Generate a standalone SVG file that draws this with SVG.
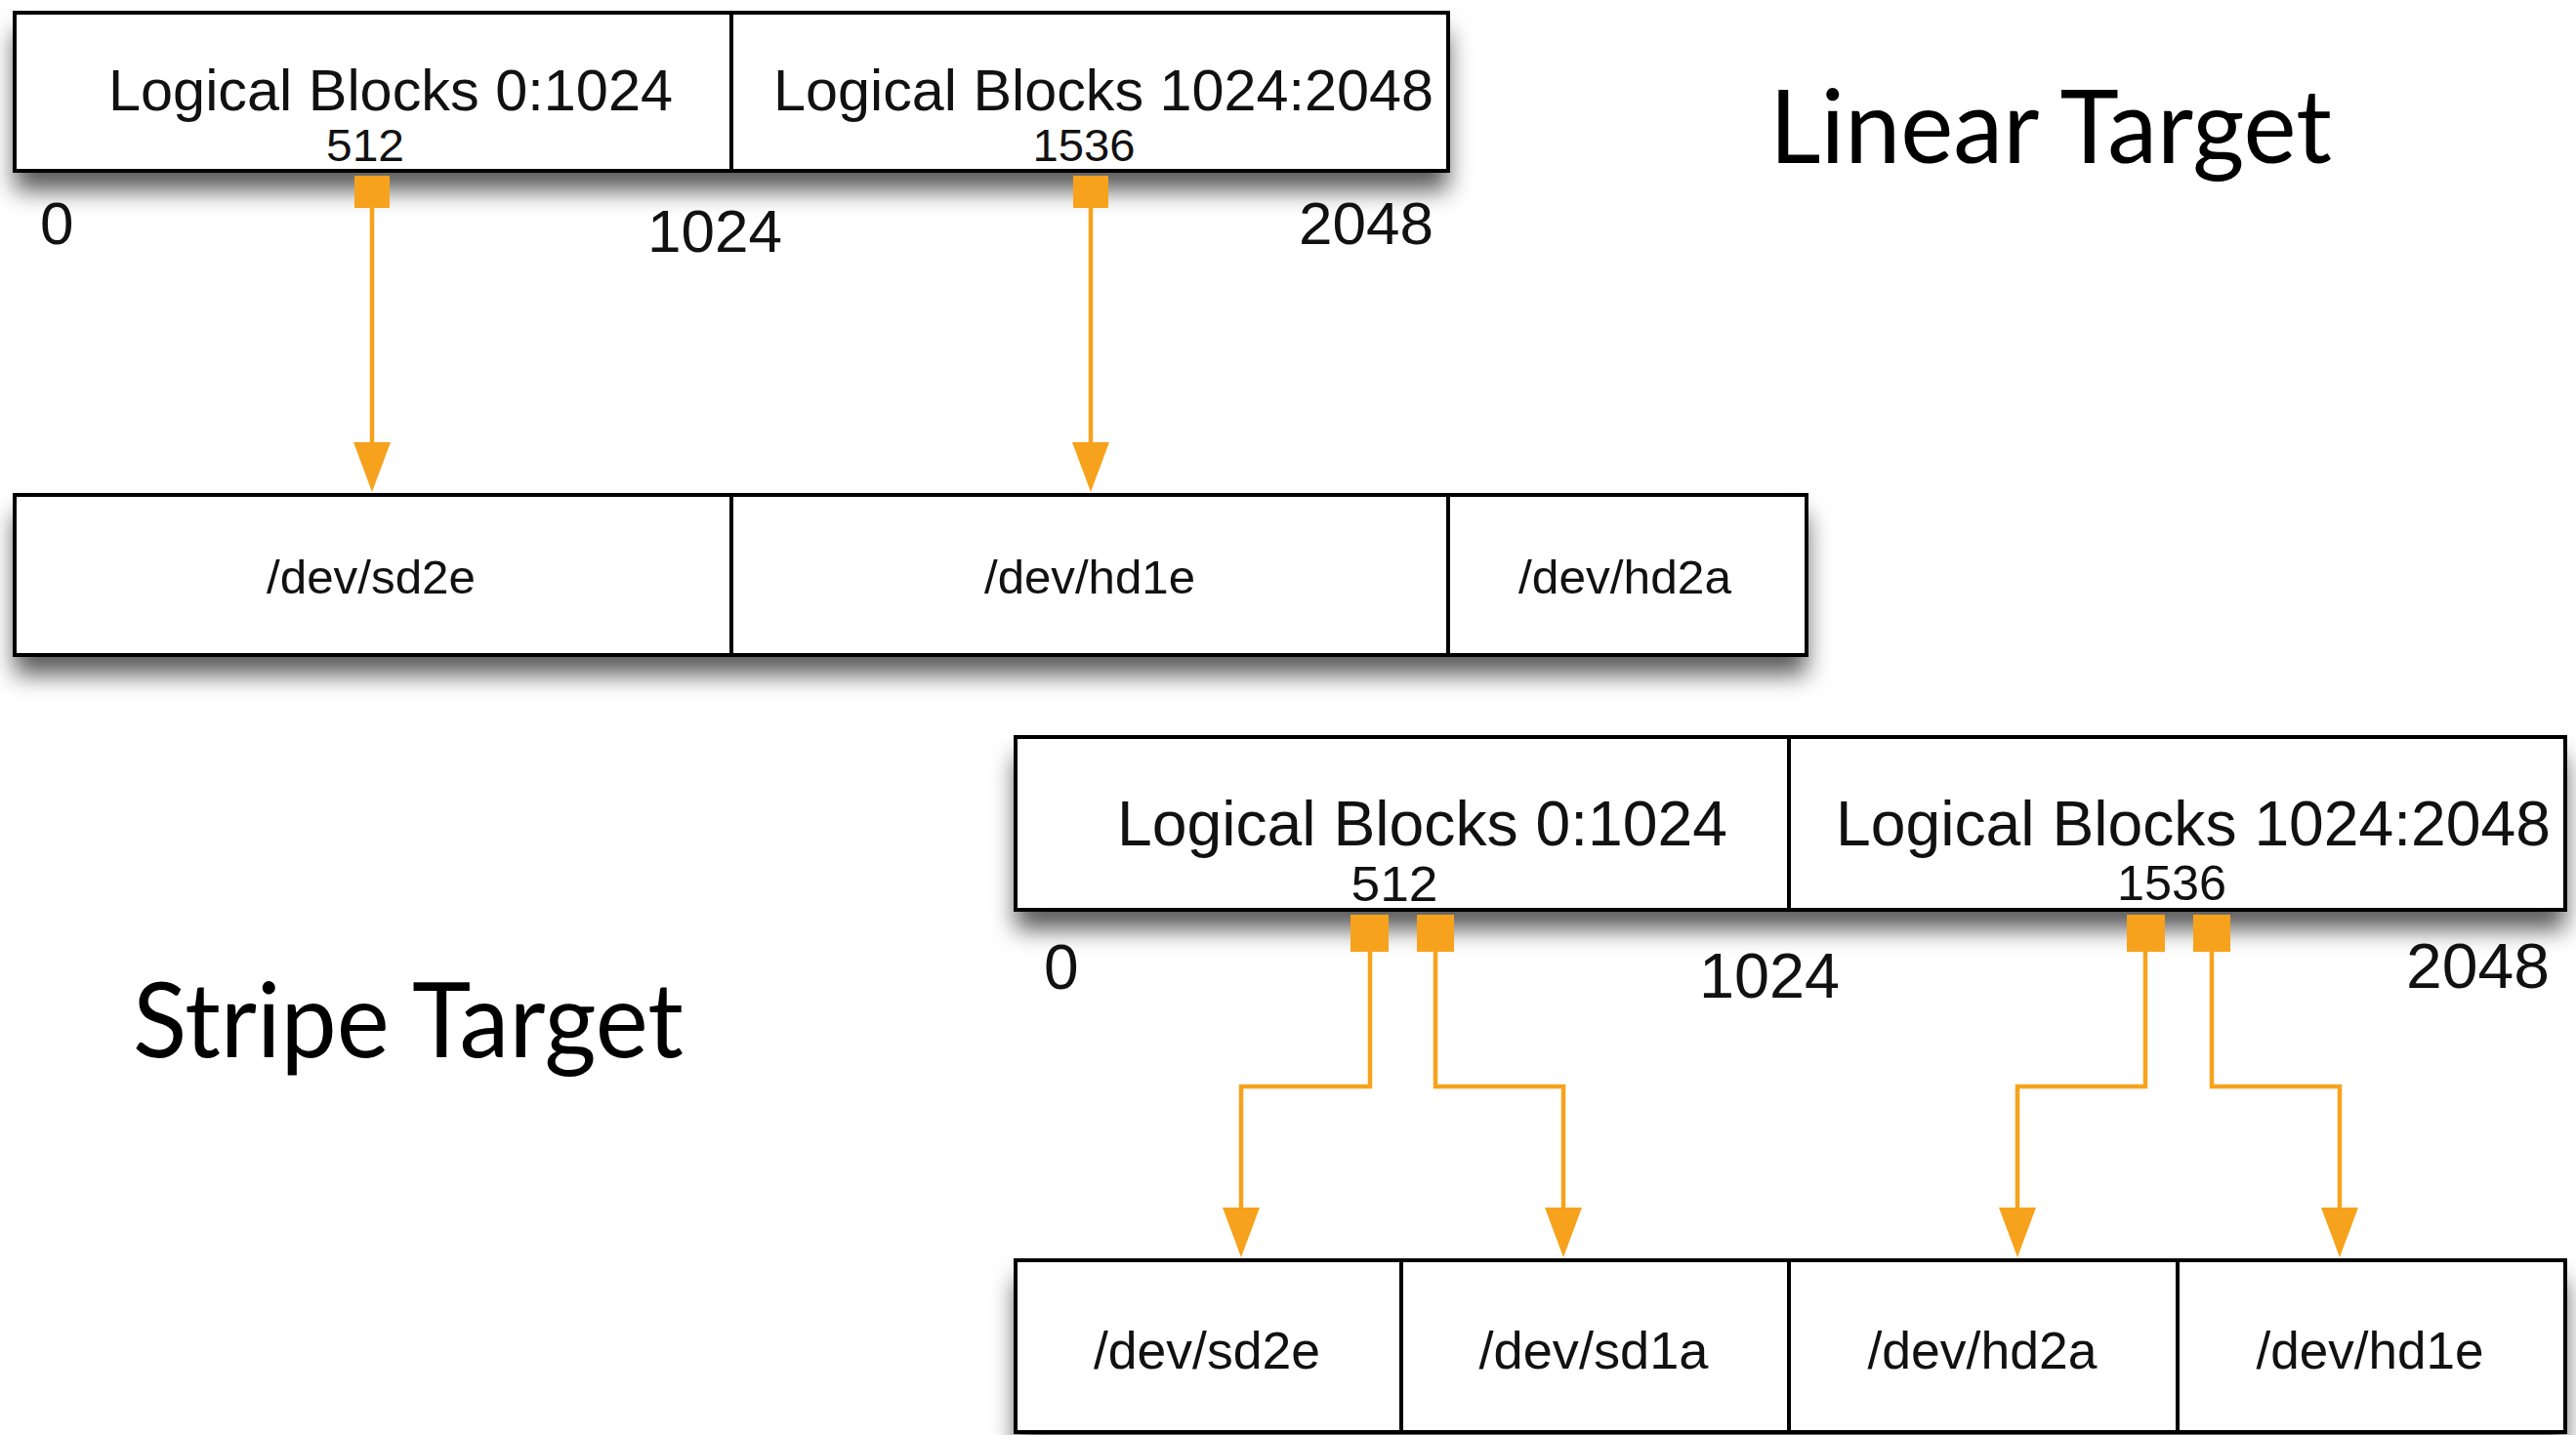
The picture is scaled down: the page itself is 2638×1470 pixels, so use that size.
<svg xmlns="http://www.w3.org/2000/svg" width="2638" height="1470" viewBox="0 0 2638 1470">
<style>
.cell{fill:#fff;stroke:#000;stroke-width:4}
.sh{fill:#fff;stroke:none}
.t{font-family:"Liberation Sans",Arial,sans-serif;fill:#111}
.title{font-family:Lato,"Open Sans",sans-serif;fill:#000}
.sq{fill:#F7A21C}
.wire{fill:none;stroke:#F7A21C;stroke-width:4.5}
</style>
<defs>
<filter id="shadow" x="-5%" y="-20%" width="110%" height="170%">
<feDropShadow dx="0" dy="20" stdDeviation="12" flood-color="#000" flood-opacity="0.65"/>
</filter>
<marker id="arr" markerUnits="userSpaceOnUse" viewBox="0 0 51 38" markerWidth="51" markerHeight="38" refX="2" refY="19" orient="auto">
<path d="M0,0 L51,19 L0,38 z" fill="#F7A21C"/>
</marker>
</defs>
<rect width="2638" height="1470" fill="#fff"/>

<g id="shadows">
<rect class="sh" x="15" y="13" width="1468" height="162" filter="url(#shadow)"/>
<rect class="sh" x="15" y="507" width="1835" height="164" filter="url(#shadow)"/>
<rect class="sh" x="1040" y="755" width="1587" height="177" filter="url(#shadow)"/>
<rect class="sh" x="1040" y="1291" width="1587" height="176" filter="url(#shadow)"/>
</g>

<text class="title" x="1812" y="167" font-size="105" textLength="576" lengthAdjust="spacingAndGlyphs">Linear Target</text>
<text class="title" x="136" y="1083" font-size="107" textLength="564" lengthAdjust="spacingAndGlyphs">Stripe Target</text>

<g id="lin-lb-0-1024">
<rect class="cell" x="15" y="13" width="734" height="162"/>
<text class="t" x="111" y="113" font-size="60" textLength="578" lengthAdjust="spacingAndGlyphs">Logical Blocks 0:1024</text>
<text class="t" x="374" y="165" font-size="47" text-anchor="middle" textLength="80" lengthAdjust="spacingAndGlyphs">512</text>
</g>
<g id="lin-lb-1024-2048">
<rect class="cell" x="749" y="13" width="734" height="162"/>
<text class="t" x="792" y="113" font-size="60" textLength="676" lengthAdjust="spacingAndGlyphs">Logical Blocks 1024:2048</text>
<text class="t" x="1110" y="165" font-size="47" text-anchor="middle" textLength="105" lengthAdjust="spacingAndGlyphs">1536</text>
</g>
<g id="lin-scale">
<text class="t" x="41" y="250" font-size="62">0</text>
<text class="t" x="663" y="258" font-size="62" textLength="138" lengthAdjust="spacingAndGlyphs">1024</text>
<text class="t" x="1330" y="250" font-size="62" textLength="138" lengthAdjust="spacingAndGlyphs">2048</text>
</g>

<g id="lin-sd2e">
<rect class="cell" x="15" y="507" width="734" height="164"/>
<text class="t" x="380" y="608" font-size="49" text-anchor="middle" textLength="214" lengthAdjust="spacingAndGlyphs">/dev/sd2e</text>
</g>
<g id="lin-hd1e">
<rect class="cell" x="749" y="507" width="734" height="164"/>
<text class="t" x="1116" y="608" font-size="49" text-anchor="middle" textLength="216" lengthAdjust="spacingAndGlyphs">/dev/hd1e</text>
</g>
<g id="lin-hd2a">
<rect class="cell" x="1483" y="507" width="367" height="164"/>
<text class="t" x="1664" y="608" font-size="49" text-anchor="middle" textLength="218" lengthAdjust="spacingAndGlyphs">/dev/hd2a</text>
</g>

<g id="str-lb-0-1024">
<rect class="cell" x="1040" y="755" width="792" height="177"/>
<text class="t" x="1144" y="866" font-size="64" textLength="625" lengthAdjust="spacingAndGlyphs">Logical Blocks 0:1024</text>
<text class="t" x="1428" y="923" font-size="50" text-anchor="middle" textLength="89" lengthAdjust="spacingAndGlyphs">512</text>
</g>
<g id="str-lb-1024-2048">
<rect class="cell" x="1832" y="755" width="795" height="177"/>
<text class="t" x="1880" y="866" font-size="64" textLength="732" lengthAdjust="spacingAndGlyphs">Logical Blocks 1024:2048</text>
<text class="t" x="2224" y="922" font-size="50" text-anchor="middle" textLength="112" lengthAdjust="spacingAndGlyphs">1536</text>
</g>
<g id="str-scale">
<text class="t" x="1069" y="1013" font-size="64">0</text>
<text class="t" x="1740" y="1022" font-size="64" textLength="144" lengthAdjust="spacingAndGlyphs">1024</text>
<text class="t" x="2464" y="1012" font-size="64" textLength="147" lengthAdjust="spacingAndGlyphs">2048</text>
</g>

<g id="str-sd2e">
<rect class="cell" x="1040" y="1291" width="395" height="176"/>
<text class="t" x="1236" y="1402" font-size="53" text-anchor="middle" textLength="232" lengthAdjust="spacingAndGlyphs">/dev/sd2e</text>
</g>
<g id="str-sd1a">
<rect class="cell" x="1435" y="1291" width="397" height="176"/>
<text class="t" x="1632" y="1402" font-size="53" text-anchor="middle" textLength="235" lengthAdjust="spacingAndGlyphs">/dev/sd1a</text>
</g>
<g id="str-hd2a">
<rect class="cell" x="1832" y="1291" width="398" height="176"/>
<text class="t" x="2030" y="1402" font-size="53" text-anchor="middle" textLength="235" lengthAdjust="spacingAndGlyphs">/dev/hd2a</text>
</g>
<g id="str-hd1e">
<rect class="cell" x="2230" y="1291" width="397" height="176"/>
<text class="t" x="2427" y="1402" font-size="53" text-anchor="middle" textLength="233" lengthAdjust="spacingAndGlyphs">/dev/hd1e</text>
</g>

<g id="connectors">
<path class="wire" d="M381 212 V455" marker-end="url(#arr)"/>
<path class="wire" d="M1117 212 V455" marker-end="url(#arr)"/>
<path class="wire" d="M1403 974 V1113 H1271 V1239" marker-end="url(#arr)"/>
<path class="wire" d="M1470 974 V1113 H1601 V1239" marker-end="url(#arr)"/>
<path class="wire" d="M2197 974 V1113 H2066 V1239" marker-end="url(#arr)"/>
<path class="wire" d="M2265 974 V1113 H2396 V1239" marker-end="url(#arr)"/>
<rect class="sq" x="363" y="180" width="36" height="33"/>
<rect class="sq" x="1099" y="180" width="36" height="33"/>
<rect class="sq" x="1383" y="937" width="39" height="38"/>
<rect class="sq" x="1451" y="937" width="38" height="38"/>
<rect class="sq" x="2178" y="937" width="39" height="38"/>
<rect class="sq" x="2246" y="937" width="38" height="38"/>
</g>
</svg>
